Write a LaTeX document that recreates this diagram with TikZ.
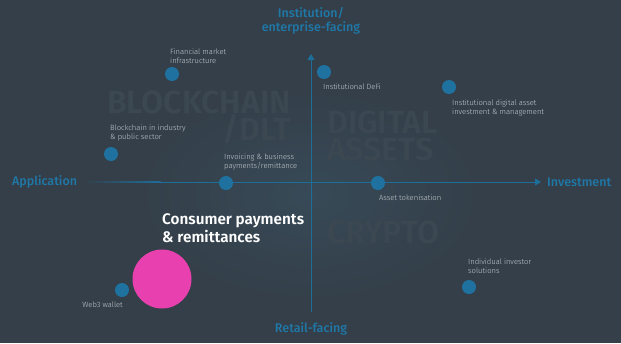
\documentclass[tikz,border=0pt]{standalone}
\usepackage{fontspec}
\setmainfont{Fira Sans}
\newfontfamily\lightf{Fira Sans Light}
\newfontfamily\medf{Fira Sans Medium}
\newfontfamily\boldf{Fira Sans SemiBold}
\usetikzlibrary{arrows.meta}
\definecolor{bg}{HTML}{343F49}
\definecolor{glow}{HTML}{374A57}
\definecolor{axisc}{HTML}{1D6E99}
\definecolor{dotc}{HTML}{1F72A0}
\definecolor{labc}{HTML}{1F78A8}
\definecolor{wm}{HTML}{3B4751}
\definecolor{smallc}{HTML}{C4CAD0}
\definecolor{pinkc}{HTML}{E840AE}
\begin{document}
\begin{tikzpicture}[x=1pt,y=-1pt,
  dotn/.style={circle,fill=dotc,inner sep=0pt,minimum size=14pt},
  lbl/.style={font=\lightf\fontsize{7.6}{9}\selectfont,text=smallc,align=left,inner sep=0pt},
  axlbl/.style={font=\medf\fontsize{12.5}{14}\selectfont,text=labc,inner sep=0pt},
  wmark/.style={font=\boldf\fontsize{32}{27.5}\selectfont,text=wm,inner sep=0pt}]
\fill[bg] (0,0) rectangle (621,343);
\useasboundingbox (0,0) rectangle (621,343);
\shade[inner color=glow,outer color=bg] (310,195) ellipse (170 and 105);
% watermarks
\node[wmark,anchor=east,align=right] (wblock) at (291,117.5) {BLOCKCHAIN\\/DLT};
\node[wmark,anchor=west,align=left] (wdig) at (327,136) {DIGITAL\\ASSETS};
\node[wmark,anchor=west] (wcry) at (327,232) {CRYPTO};
% axes
\coordinate (vtop) at (311,54);
\coordinate (vbot) at (311,312);
\coordinate (hmid) at (160,182);
\coordinate (hright) at (541,182);
\draw[draw=axisc,line width=1pt,-{Triangle[length=6pt,width=7pt]}] (vbot) -- (vtop);
\shade[left color=bg,right color=axisc] (82,181.5) rectangle (160.5,182.5);
\draw[draw=axisc,line width=1pt,-{Triangle[length=6pt,width=7pt]}] (hmid) -- (hright);
\node[axlbl,align=center] (ttop) at (311,21) {Institution/\\enterprise-facing};
\node[axlbl] (tbot) at (311,329) {Retail-facing};
\node[axlbl,anchor=west] (tleft) at (12,182) {Application};
\node[axlbl,anchor=west] (tright) at (547,182) {Investment};
% dots
\node[dotn] (fmi) at (172,74) {};
\node[lbl,anchor=south west] (fmil) at (170,64) {Financial market\\infrastructure};
\node[dotn] (idefi) at (324,72) {};
\node[lbl,anchor=west] (idefil) at (323,87) {Institutional DeFi};
\node[dotn] (ida) at (449,87) {};
\node[lbl,anchor=north west] (idal) at (452,100) {Institutional digital asset\\investment \& management};
\node[dotn] (bip) at (111,154) {};
\node[lbl,anchor=south west] (bipl) at (110,141) {Blockchain in industry\\\& public sector};
\node[dotn] (inv) at (226,183) {};
\node[lbl,anchor=south west] (invl) at (224,170) {Invoicing \& business\\payments/remittance};
\node[dotn] (at) at (378,183) {};
\node[lbl,anchor=west] (atl) at (379,198) {Asset tokenisation};
\node[dotn] (iis) at (469,287) {};
\node[lbl,anchor=south west] (iisl) at (468,274) {Individual investor\\solutions};
\node[dotn] (w3) at (122,290) {};
\node[lbl,anchor=east] (w3l) at (123,305) {Web3 wallet};
\node[circle,fill=pinkc,inner sep=0pt,minimum size=59pt] (cp) at (162,279) {};
\node[font=\boldf\fontsize{15.3}{18}\selectfont,text=white,align=left,anchor=west,inner sep=0pt] (cpl) at (162,228) {Consumer payments\\\& remittances};
\end{tikzpicture}
\end{document}
